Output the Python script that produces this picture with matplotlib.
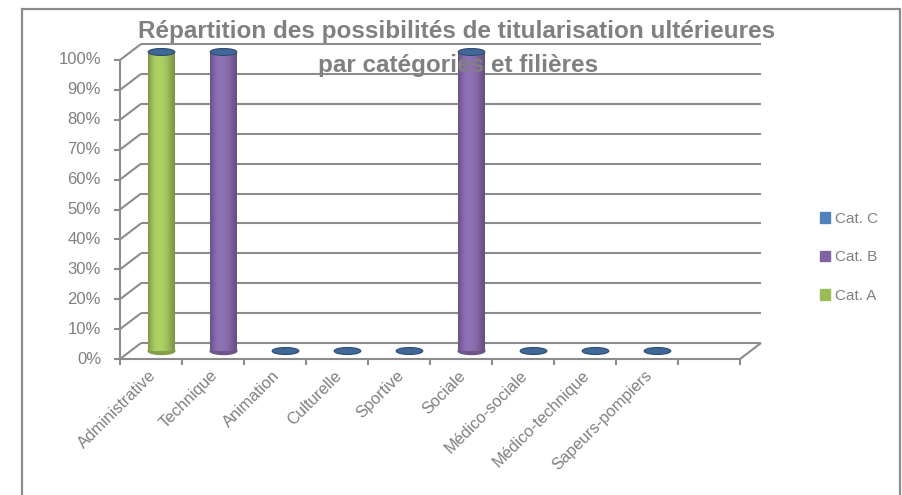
import numpy as np
import matplotlib
matplotlib.use('Agg')
import matplotlib.pyplot as plt
from matplotlib.patches import Ellipse, Rectangle, Patch
from matplotlib.colors import to_rgb

categories = ['Administrative', 'Technique', 'Animation', 'Culturelle', 'Sportive',
              'Sociale', 'Médico-sociale', 'Médico-technique', 'Sapeurs-pompiers']
cat_a = [1.0, 0, 0, 0, 0, 0, 0, 0, 0]
cat_b = [0, 1.0, 0, 0, 0, 1.0, 0, 0, 0]
cat_c = [0, 0, 0, 0, 0, 0, 0, 0, 0]
series_names = ['Cat. A', 'Cat. B', 'Cat. C']
series_colors = ['#9BBB59', '#8064A2', '#4F81BD']
series_values = [cat_a, cat_b, cat_c]
yticks = [0, 0.1, 0.2, 0.3, 0.4, 0.5, 0.6, 0.7, 0.8, 0.9, 1.0]
ytick_labels = ['0%', '10%', '20%', '30%', '40%', '50%', '60%', '70%', '80%', '90%', '100%']
n_slots = len(categories) + 1
title1 = 'Répartition des possibilités de titularisation ultérieures'
title2 = 'par catégories et filières'

GREY = '#808080'
GRID = '#8c8c8c'
REG = ['Liberation Sans', 'DejaVu Sans']

W, H = 903, 495
fig = plt.figure(figsize=(W / 100, H / 100), dpi=100)
fx = lambda px: px / W
fy = lambda py: 1 - py / H

# outer frame
fig.add_artist(Rectangle((fx(22), fy(505)), fx(900) - fx(22), fy(9) - fy(505),
                         transform=fig.transFigure, fill=False, ec='#8c8c8c', lw=1.6))

x0, x1, y0, y1 = 120, 740, 359, 60
ax = fig.add_axes([fx(x0), fy(y0), fx(x1) - fx(x0), fy(y1) - fy(y0)])
ax.set_xlim(0, n_slots)
ax.set_ylim(0, 1)
ax.axis('off')

px_x = n_slots / (x1 - x0)   # data per pixel (x)
px_y = 1.0 / (y0 - y1)       # data per pixel (y)
DX, DY = 21 * px_x, 16 * px_y

kw = dict(color=GRID, lw=1.5, clip_on=False, solid_capstyle='butt')
for v, lab in zip(yticks, ytick_labels):
    ax.plot([DX, n_slots + DX], [v + DY, v + DY], zorder=1, **kw)
    ax.plot([0, DX], [v, v + DY], zorder=1, **kw)
    ax.plot([-6 * px_x, 0], [v, v], zorder=1, **kw)
    ax.text(-19 * px_x, v, lab, ha='right', va='center', fontsize=12,
            color=GREY, family=REG)
ax.plot([0, 0], [0, 1], zorder=1, **kw)
ax.plot([0, n_slots], [0, 0], zorder=1, **kw)
ax.plot([n_slots, n_slots + DX], [0, DY], zorder=1, **kw)
for k in range(n_slots + 1):
    ax.plot([k, k], [0, -6 * px_y], zorder=1, **kw)

for i, name in enumerate(categories):
    ax.text(i + 0.5 - 3 * px_x, -9 * px_y, name, rotation=45, rotation_mode='anchor',
            ha='right', va='top', fontsize=11.8, color=GREY, family=REG)

# cylinders
cw = 0.43
eh = 7 * px_y
nstrip = 30
t = (np.arange(nstrip) + 0.5) / nstrip
shade = 0.78 + 0.34 * np.sin(np.pi * t ** 0.8)
for i in range(len(categories)):
    cx = i + 0.5 + DX / 2
    bottom = DY / 2
    for s, (vals, col) in enumerate(zip(series_values, series_colors)):
        h = vals[i]
        base = np.array(to_rgb(col))
        top = bottom + h
        if h > 0:
            ax.add_patch(Ellipse((cx, bottom), cw, eh, color=np.clip(base * 0.85, 0, 1),
                                 zorder=3, clip_on=False))
            cols = [tuple(np.clip(base * sh, 0, 1)) for sh in shade]
            ax.bar(cx - cw / 2 + (t * cw), h, width=cw / nstrip * 1.02, bottom=bottom,
                   color=cols, lw=0, zorder=4, clip_on=False)
            ax.add_patch(Ellipse((cx, top), cw, eh, fc=np.clip(base * 1.1, 0, 1),
                                 lw=0, zorder=5, clip_on=False))
        if s == len(series_values) - 1:
            ax.add_patch(Ellipse((cx, top), cw, eh, fc=np.clip(base * 0.8, 0, 1),
                                 ec=np.clip(base * 0.6, 0, 1), lw=0.8, zorder=6, clip_on=False))
        bottom = top

# legend
handles = [Patch(color=c) for c in series_colors][::-1]
fig.legend(handles, series_names[::-1], loc='upper left',
           bbox_to_anchor=(fx(806), fy(198)), frameon=False,
           handlelength=0.7, handleheight=0.7, handletextpad=0.3,
           labelspacing=1.6, prop={'family': REG, 'size': 11},
           labelcolor=GREY)

fig.text(fx(457), fy(38), title1, ha='center', va='baseline', fontsize=17.5,
         fontweight='bold', color=GREY, family=REG, zorder=10)
fig.text(fx(458), fy(72), title2, ha='center', va='baseline', fontsize=17.5,
         fontweight='bold', color=GREY, family=REG, zorder=10)

fig.savefig('out.png', dpi=100)
